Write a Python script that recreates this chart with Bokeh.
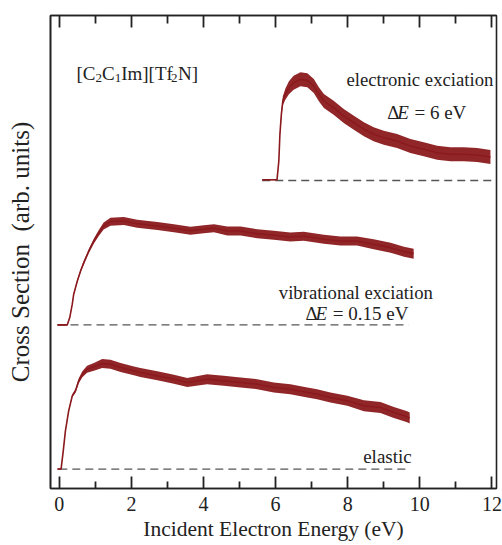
from bokeh.plotting import figure
from bokeh.models import Range1d, LinearAxis, Label, FixedTicker
from bokeh.embed import file_html
from bokeh.resources import INLINE

# ---- data ----
# elastic
el_x = [-0.05, 0.05, 0.11, 0.17, 0.26, 0.36, 0.45, 0.54, 0.64, 0.77, 0.96, 1.19, 1.42, 1.70,
        2.07, 2.25, 2.72, 3.18, 3.55, 4.10, 4.56, 5.03, 5.49, 5.95, 6.41, 6.88, 7.15, 7.52,
        7.99, 8.45, 8.91, 9.28, 9.65, 9.72]
el_y = [19.4, 19.6, 37.7, 57.7, 77.7, 92.7, 97.7, 107.7, 114.4, 119.4, 121.7, 125.0, 124.4, 121.0,
        117.7, 116.0, 112.7, 109.4, 106.0, 109.4, 107.7, 106.0, 104.4, 101.0, 99.4, 96.0, 94.4, 91.0,
        87.7, 82.7, 81.0, 76.0, 71.7, 70.5]
el_noise = [0.5, 0.5, 0.8, 1.0, 1.2, 1.5, 2.0, 2.5, 3.0, 3.5, 4.0, 4.5, 4.5, 4.5,
            4.5, 4.5, 4.5, 4.5, 4.5, 5.0, 5.0, 5.0, 5.0, 5.0, 5.0, 5.0, 5.0, 5.0,
            5.0, 5.5, 5.5, 5.5, 5.5, 5.5]
el_base_x = [0.0, 9.69]
el_base_y = [19.4, 19.4]

# vibrational
vb_x = [-0.05, 0.22, 0.29, 0.36, 0.40, 0.50, 0.59, 0.68, 0.82, 0.96, 1.10, 1.23, 1.42, 1.79,
        2.16, 2.72, 3.18, 3.64, 4.01, 4.29, 4.66, 5.03, 5.49, 5.95, 6.41, 6.78, 7.34, 7.80,
        8.26, 8.72, 9.19, 9.56, 9.83]
vb_y = [163.7, 163.7, 171.0, 184.4, 194.4, 207.7, 217.7, 226.0, 237.7, 247.7, 256.0, 262.7, 267.0, 267.7,
        265.0, 262.7, 260.4, 258.0, 259.4, 260.5, 257.7, 257.7, 255.0, 253.4, 251.7, 252.5, 249.4, 247.7,
        247.7, 244.4, 241.0, 237.0, 235.0]
vb_noise = [0.5, 0.5, 0.8, 1.0, 1.0, 1.2, 1.5, 1.8, 2.0, 2.5, 3.0, 3.5, 4.0, 4.0,
            4.0, 4.0, 4.0, 4.0, 4.0, 4.0, 4.5, 4.5, 4.5, 4.5, 4.5, 4.5, 4.5, 4.5,
            4.5, 5.0, 5.0, 5.0, 5.0]
vb_base_x = [-0.05, 9.69]
vb_base_y = [163.7, 163.7]

# electronic
ec_x = [5.63, 6.04, 6.09, 6.12, 6.16, 6.20, 6.27, 6.37, 6.50, 6.69, 6.88, 7.06, 7.20, 7.34,
        7.61, 7.89, 8.17, 8.45, 8.72, 9.00, 9.37, 9.74, 10.11, 10.48, 10.85, 11.22, 11.59, 11.96]
ec_y = [309.0, 309.0, 327.7, 354.4, 374.4, 387.7, 394.4, 401.0, 406.0, 409.4, 408.4, 402.7, 394.4, 387.7,
        381.0, 372.7, 366.0, 359.4, 354.4, 351.0, 347.7, 342.7, 339.4, 336.0, 334.4, 334.4, 333.7, 331.7]
ec_noise = [0.5, 0.5, 1.0, 2.0, 3.0, 4.5, 5.5, 6.5, 7.0, 7.0, 7.0, 7.0, 7.0, 7.0,
            7.0, 7.0, 7.0, 7.0, 7.0, 7.0, 7.0, 7.0, 7.0, 7.0, 7.0, 7.0, 7.0, 7.0]
ec_base_x = [5.63, 12.0]
ec_base_y = [308.2, 308.2]

x_ticks = [0, 2, 4, 6, 8, 10, 12]
minor_ticks = [1, 3, 5, 7, 9, 11]

CURVE = "#8b1a1e"
DASH = "#555555"
INK = "#222222"
FONT = "'Liberation Serif'"

p = figure(width=502, height=552,
           x_range=Range1d(-0.244, 12.128), y_range=Range1d(0, 473.3),
           output_backend="svg", toolbar_location=None,
           min_border_left=50, min_border_right=6, min_border_top=15, min_border_bottom=64)
p.background_fill_color = "white"
p.border_fill_color = "white"
p.grid.visible = False
p.outline_line_color = INK
p.outline_line_width = 1.6

# bottom axis
xa = p.xaxis[0]
xa.ticker = FixedTicker(ticks=x_ticks, minor_ticks=minor_ticks)
xa.major_tick_in = 12
xa.major_tick_out = 0
xa.minor_tick_in = 7
xa.minor_tick_out = 0
xa.major_tick_line_width = 1.8
xa.minor_tick_line_width = 1.8
xa.major_tick_line_color = INK
xa.minor_tick_line_color = INK
xa.axis_line_color = INK
xa.axis_line_width = 1.6
xa.major_label_text_font = FONT
xa.major_label_text_font_size = "20px"
xa.major_label_text_color = INK
xa.major_label_standoff = 8
xa.axis_label = "Incident Electron Energy (eV)"
xa.axis_label_text_font = FONT
xa.axis_label_text_font_size = "21.5px"
xa.axis_label_text_font_style = "normal"
xa.axis_label_text_color = INK
xa.axis_label_standoff = 3

# left axis: label only, no ticks
ya = p.yaxis[0]
ya.ticker = FixedTicker(ticks=[])
ya.major_tick_in = 0
ya.major_tick_out = 0
ya.minor_tick_in = 0
ya.minor_tick_out = 0
ya.major_label_standoff = 0
ya.axis_line_color = INK
ya.axis_line_width = 1.6
ya.axis_label = "Cross Section\u00a0 (arb. units)"
ya.axis_label_text_font = FONT
ya.axis_label_text_font_size = "25px"
ya.axis_label_text_font_style = "normal"
ya.axis_label_text_color = INK
ya.axis_label_standoff = 17

# top axis: mirrored ticks, no labels
ta = LinearAxis(ticker=FixedTicker(ticks=x_ticks, minor_ticks=minor_ticks))
ta.major_tick_in = 12
ta.major_tick_out = 0
ta.minor_tick_in = 8
ta.minor_tick_out = 0
ta.major_tick_line_width = 1.8
ta.minor_tick_line_width = 1.8
ta.major_tick_line_color = INK
ta.minor_tick_line_color = INK
ta.axis_line_color = INK
ta.axis_line_width = 1.6
ta.major_label_text_color = None
ta.major_label_text_font_size = "1px"
ta.major_label_standoff = 0
p.add_layout(ta, "above")

# baselines
for bx, by in [(el_base_x, el_base_y), (vb_base_x, vb_base_y), (ec_base_x, ec_base_y)]:
    p.line(bx, by, line_color=DASH, line_width=1.4, line_dash="8 5")

# curves with noise band
for cx, cy, cn in [(el_x, el_y, el_noise), (vb_x, vb_y, vb_noise), (ec_x, ec_y, ec_noise)]:
    lo = [a - b for a, b in zip(cy, cn)]
    hi = [a + b for a, b in zip(cy, cn)]
    p.varea(x=cx, y1=lo, y2=hi, fill_color=CURVE, fill_alpha=0.95)
    p.line(cx, cy, line_color=CURVE, line_width=1.6)

def lab(x, y, text, size="19px", style="normal", xoff=0):
    p.add_layout(Label(x=x, y=y, text=text, x_offset=xoff, text_font=FONT,
                       text_font_size=size, text_font_style=style, text_color=INK,
                       text_baseline="alphabetic", text_align="left"))

# compound label [C2C1Im][Tf2N]
cx0, cy0 = 0.477, 415.2
lab(cx0, cy0, "[C", xoff=0)
lab(cx0, cy0 - 4, "2", size="13px", xoff=19)
lab(cx0, cy0, "C", xoff=25.5)
lab(cx0, cy0 - 4, "1", size="13px", xoff=38.2)
lab(cx0, cy0, "Im][Tf", xoff=44.7)
lab(cx0, cy0 - 4, "2", size="13px", xoff=94.5)
lab(cx0, cy0, "N]", xoff=101.5)

NB = "\u00a0"
# electronic
lab(7.967, 409.0, "electronic exciation", size="18.7px")
lab(9.096, 376.4, "\u0394")
lab(9.096, 376.4, "E", style="italic", xoff=10)
lab(9.096, 376.4, NB + "=" + NB + "6 eV", xoff=22.5)

# vibrational
lab(6.089, 196.0, "vibrational exciation", size="18.7px")
lab(6.83, 175.4, "\u0394")
lab(6.83, 175.4, "E", style="italic", xoff=10)
lab(6.83, 175.4, NB + "=" + NB + "0.15 eV", xoff=22.5)

# elastic
lab(8.43, 31.7, "elastic")

open("out.html", "w").write(file_html(p, INLINE))
